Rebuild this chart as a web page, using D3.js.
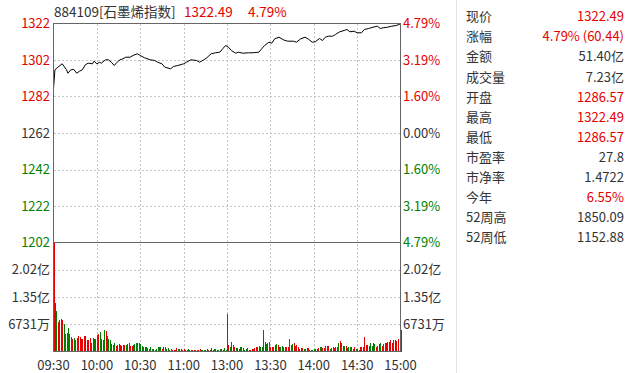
<!DOCTYPE html>
<html><head><meta charset="utf-8">
<script src="https://cdn.jsdelivr.net/npm/d3@7"></script>
<style>
html,body{margin:0;padding:0;background:#fff;}
svg{display:block;font-family:"Microsoft YaHei","Noto Sans CJK SC",sans-serif;}
</style></head>
<body><svg id="c" width="634" height="373"></svg>
<script>
// ---- data ----
const code = "884109[石墨烯指数]";
const lastPrice = 1322.49;
const prevClose = 1262.05;
const changePct = "4.79%";
const timeLabels = ["09:30","10:00","10:30","11:00","13:00","13:30","14:00","14:30","15:00"];
const timeTicks = [0,30,60,90,120,150,180,210,240];
const priceLabels = ["1322","1302","1282","1262","1242","1222","1202"];
const pctLabels = ["4.79%","3.19%","1.60%","0.00%","1.60%","3.19%","4.79%"];
const volLabels = ["2.02亿","1.35亿","6731万"];
const volTicks = [20193,13462,6731];
const volMax = 26924;

const priceMinutes = [0,1,3,6,9,10,12,14,16,18,20,22,24,27,28,30,32,33,36,38,40,42,44,46,48,50,53,55,58,60,
 63,67,70,72,75,77,81,83,86,90,92,95,99,101,104,106,109,112,115,117,119,121,123,126,128,131,135,138,142,144,
 146,149,151,153,156,159,162,166,168,171,174,176,179,181,184,186,188,190,193,195,198,201,203,205,208,210,213,215,218,221,
 224,226,228,231,234,237,239,240];
const priceValues = [1286.57,1296.93,1298.37,1300.24,1296.93,1295.05,1296.93,1297.20,1295.05,1296.16,1296.93,1299.69,1300.58,1300.24,1301.68,1300.24,1301.13,1300.58,1302.45,1302.45,1301.13,1299.31,1301.13,1302.45,1303.00,1303.89,1303.89,1304.83,1305.76,1304.83,
 1303.56,1302.45,1302.07,1301.13,1300.24,1298.37,1297.48,1298.75,1299.31,1300.24,1301.13,1302.45,1302.07,1301.13,1302.45,1303.56,1305.76,1306.32,1306.65,1308.52,1310.35,1309.41,1307.59,1306.10,1306.65,1306.10,1306.32,1306.32,1306.65,1308.52,
 1310.35,1312.17,1311.62,1314.04,1314.93,1313.49,1312.72,1312.72,1312.17,1314.04,1314.93,1314.04,1312.17,1312.39,1314.21,1313.10,1314.93,1315.48,1315.48,1316.42,1317.91,1318.63,1319.18,1317.91,1318.24,1317.36,1317.36,1319.18,1319.73,1320.45,
 1321.00,1319.73,1320.12,1320.45,1321.00,1321.39,1321.94,1322.49];

// per-minute volume (万) and direction (r = up, g = down)
const volumes = [27100,12020,9960,7320,7740,7980,7740,6670,4440,4610,5840,4280,3620,3050,3370,2960,3370,3790,3540,3050,
 3050,3790,3790,2800,2800,3370,2140,3370,3050,3050,4030,4360,4860,3050,2800,5270,5020,3790,3210,2800,
 1810,1560,2140,1320,1560,1810,1560,1400,1560,1560,1560,1810,2140,1400,1320,1560,1810,2220,2220,1980,
 1730,1320,1150,1150,990,820,660,990,580,740,490,580,1070,1070,1070,660,1070,1070,580,820,
 490,580,490,410,410,820,580,580,580,490,580,410,490,580,410,490,250,250,330,410,
 330,580,490,330,490,330,580,410,490,910,490,660,580,410,490,580,740,490,820,490,
 9140,1560,990,2390,1560,1150,910,910,740,1070,990,910,490,660,820,330,490,580,740,910,
 990,1230,1400,990,1150,5270,2390,1810,2140,2390,1150,1150,1150,1560,1810,1560,1070,1070,1320,1150,
 1070,1150,990,3050,1560,1730,2220,1320,1560,990,660,820,820,580,580,820,820,490,490,330,
 580,740,580,910,1150,990,820,820,1480,1480,1480,740,820,1150,820,1150,990,1980,2550,1980,
 1320,1400,1320,910,1150,990,1150,740,990,660,740,490,990,1150,1070,3460,1560,1560,1400,2220,
 1320,1980,1810,990,1400,1730,2220,1400,1730,1980,2140,2390,2390,2720,2220,2960,2800,2550,3050,160,
 5430];
const volDir = ("rrgrrrrggggg" + "rrgggrrrrrrrrrrggggrgrrgrrggrggrrrrrrrggrrrr" +
 "gggggggggggggggggggrrrggrgrrrrgggrrrggrrrrgrrrrggrgrgr" + "rg" +
 "rrggrrggrrgrrrgrrgrrggrrrrgrrrgggrrgggrrrrgrrggrrrrgggrgrrrrrggrrrrggrrrggrrgrrgggrrggrgrgrrgggrrgrrrrgrrrrggrgrgrgrgrrgrrrrrr").split("");

const infoLabels = ["现价","涨幅","金额","成交量","开盘","最高","最低","市盈率","市净率","今年","52周高","52周低"];
const infoValues = ["1322.49","4.79% (60.44)","51.40亿","7.23亿","1286.57","1322.49","1286.57","27.8","1.4722","6.55%","1850.09","1152.88"];
const infoColors = ["up","up","flat","flat","up","up","up","flat","flat","up","flat","flat"];

// ---- drawing ----
const RED = "#e60000", GREEN = "#008000", DARK = "#333333", GRID = "#c4c4c4", FRAME = "#666666";
const svg = d3.select("#c");
const L = 53.5, R = 400.5, T = 23.5, MID = 242.5, B = 351.5;
const high = lastPrice, low = prevClose - (lastPrice - prevClose);

const x = d3.scaleLinear().domain([0,240]).range([L,R]);
const y = d3.scaleLinear().domain([low,high]).range([MID,T]);
const yv = d3.scaleLinear().domain([0,volMax]).range([B,MID]).clamp(true);

const gridVals = d3.range(7).map(i => high - i*(high-low)/6);

// right-panel separator
svg.append("line").attr("x1",456.5).attr("x2",456.5).attr("y1",0).attr("y2",373).attr("stroke","#e2e2e2");

// grid lines
const g = svg.append("g").attr("stroke",GRID).attr("stroke-dasharray","2,2").attr("shape-rendering","crispEdges");
gridVals.slice(1,6).forEach(v => g.append("line").attr("x1",L).attr("x2",R).attr("y1",Math.round(y(v))+0.5).attr("y2",Math.round(y(v))+0.5));
volTicks.forEach(v => g.append("line").attr("x1",L).attr("x2",R).attr("y1",Math.round(yv(v))+0.5).attr("y2",Math.round(yv(v))+0.5));
timeTicks.slice(1,8).forEach(t => g.append("line").attr("x1",Math.round(x(t))+0.5).attr("x2",Math.round(x(t))+0.5).attr("y1",T).attr("y2",B));

// volume bars
svg.append("g").attr("shape-rendering","crispEdges").selectAll("rect").data(volumes).join("rect")
  .attr("x",(d,i)=>Math.round(x(i)))
  .attr("width",1)
  .attr("y",d=>yv(d))
  .attr("height",d=>B-yv(d))
  .attr("fill",(d,i)=>volDir[i]==="g"?GREEN:RED);

// price line
const pts = priceMinutes.map((m,i)=>[m,priceValues[i]]);
svg.append("path").datum(pts)
  .attr("d", d3.line().x(d=>x(d[0])).y(d=>y(d[1])))
  .attr("fill","none").attr("stroke","#000").attr("stroke-width",1);

// frame
const f = svg.append("g").attr("stroke",FRAME).attr("fill","none").attr("shape-rendering","crispEdges");
f.append("rect").attr("x",L).attr("y",T).attr("width",R-L).attr("height",B-T);
f.append("line").attr("x1",L).attr("x2",R).attr("y1",MID).attr("y2",MID);

// left/right price labels
const AX = 13;
const colorFor = i => i<3?RED:(i===3?DARK:GREEN);
svg.append("g").selectAll("text").data(priceLabels).join("text")
  .attr("x",50).attr("y",(d,i)=>y(gridVals[i])).attr("dy","0.35em").attr("text-anchor","end")
  .attr("font-size",AX).attr("fill",(d,i)=>colorFor(i)).text(d=>d);
svg.append("g").selectAll("text").data(pctLabels).join("text")
  .attr("x",403).attr("y",(d,i)=>y(gridVals[i])).attr("dy","0.35em").attr("text-anchor","start")
  .attr("font-size",AX).attr("fill",(d,i)=>colorFor(i)).text(d=>d);

// volume labels
svg.append("g").selectAll("text").data(volLabels).join("text")
  .attr("x",50).attr("y",(d,i)=>yv(volTicks[i])).attr("dy","0.35em").attr("text-anchor","end")
  .attr("font-size",AX).attr("fill",DARK).text(d=>d);
svg.append("g").selectAll("text").data(volLabels).join("text")
  .attr("x",403).attr("y",(d,i)=>yv(volTicks[i])).attr("dy","0.35em").attr("text-anchor","start")
  .attr("font-size",AX).attr("fill",DARK).text(d=>d);

// time labels
svg.append("g").selectAll("text").data(timeLabels).join("text")
  .attr("x",(d,i)=>x(timeTicks[i])).attr("y",365).attr("dy","0.35em").attr("text-anchor","middle")
  .attr("font-size",AX).attr("fill",DARK).text(d=>d);

// title
const title = svg.append("text").attr("x",54).attr("y",12.5).attr("dy","0.35em").attr("font-size",13.5);
title.append("tspan").attr("fill",DARK).text(code);
title.append("tspan").attr("x",184).attr("fill",RED).text(lastPrice.toFixed(2));
title.append("tspan").attr("x",248).attr("fill",RED).text(changePct);

// info panel
const info = svg.append("g").attr("font-size",13);
info.selectAll("text.l").data(infoLabels).join("text").attr("class","l")
  .attr("x",466).attr("y",(d,i)=>16.7+i*20.1).attr("dy","0.35em").attr("fill",DARK).text(d=>d);
info.selectAll("text.v").data(infoValues).join("text").attr("class","v")
  .attr("x",624).attr("y",(d,i)=>16.7+i*20.1).attr("dy","0.35em").attr("text-anchor","end")
  .attr("fill",(d,i)=>infoColors[i]==="up"?RED:DARK).text(d=>d);
</script></body></html>
